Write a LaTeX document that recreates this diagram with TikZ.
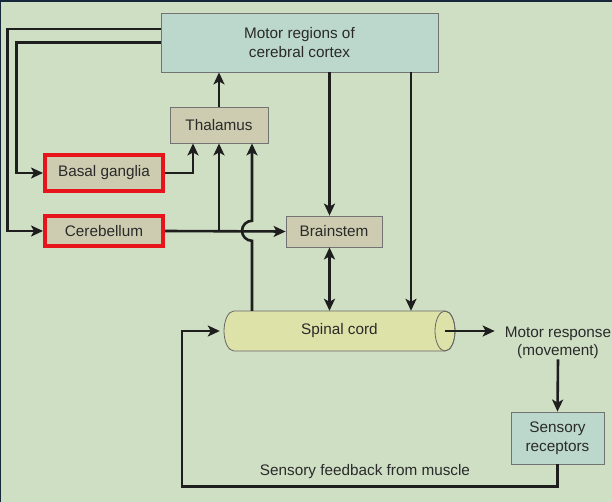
\documentclass[tikz,border=0pt]{standalone}
\usepackage{fontspec}
\setmainfont{Liberation Sans}
\usetikzlibrary{arrows.meta}
\definecolor{bgcol}{HTML}{CFDFC4}
\definecolor{cortexcol}{HTML}{BCD8CC}
\definecolor{tancol}{HTML}{CDCCB0}
\definecolor{cordcol}{HTML}{DDE2A8}
\definecolor{framecol}{HTML}{16283A}
\definecolor{inkcol}{HTML}{1E1E1E}
\definecolor{textcol}{HTML}{2A2A2A}
\definecolor{hilite}{HTML}{E8141C}
\tikzset{
    every node/.style={font=\fontsize{15.3}{18.5}\selectfont, text=textcol, align=center},
    box/.style={draw=black!55, line width=0.8pt, inner sep=0pt},
    redbox/.style={box, draw=hilite, line width=4pt, fill=tancol},
    >={Stealth[length=12pt,width=11pt,inset=3pt]},
    arr/.style={->, line width=2.6pt, draw=inkcol},
}
\begin{document}
\begin{tikzpicture}[x=1pt, y=-1pt]
            \useasboundingbox (0, 0) rectangle (612, 502);
            \fill[bgcol] (0, 0) rectangle (612, 502);
            \draw[framecol, line width=2pt] (0, 502) -- (0, 1) -- (612, 1);

            \node[box, fill=cortexcol, minimum width=277, minimum height=59] (cortex) at (299.5, 42.5) {Motor regions of\\cerebral cortex};
            \node[box, fill=tancol, minimum width=98, minimum height=36] (thal) at (219, 125) {Thalamus};
            \node[redbox, minimum width=118, minimum height=36] (basal) at (104, 173) {Basal ganglia};
            \node[redbox, minimum width=118, minimum height=30] (cereb) at (104, 231) {Cerebellum};
            \node[box, fill=tancol, minimum width=96, minimum height=31] (brain) at (334, 231.5) {Brainstem};
            % spinal cord drawn as a lying cylinder round its node
            \draw[black!60, line width=0.8pt, fill=cordcol] (244, 311) -- (445, 311)
                arc[start angle=-90, end angle=90, x radius=10, y radius=20] -- (234, 351)
                arc[start angle=90, end angle=270, x radius=10, y radius=20] -- cycle;
            \draw[black!60, line width=0.8pt] (445, 331) ellipse[x radius=10, y radius=20];
            \node[minimum width=231, minimum height=40, inner sep=0pt] (spinal) at (339.5, 331) {Spinal cord};
            \node[inner sep=0pt] (motor) at (558, 343) {Motor response\\(movement)};
            \node[box, fill=cortexcol, minimum width=93, minimum height=52] (recep) at (557.5, 438) {Sensory\\receptors};
            \node (feedback) at (365, 472) {Sensory feedback from muscle};

            \draw[arr] ([yshift=13.5pt]cortex.west) -- ++(-153, 0) |- (cereb.west);
            \draw[arr] (cortex.west) -- ++(-144, 0) |- (basal.west);
            \draw[arr] (basal.east) -| ([xshift=-26pt]thal.south);
            \draw[arr] (thal.north) -- (thal.north |- cortex.south);
            \draw[arr] (cereb.east) -- (brain.west);
            \draw[arr] (thal.south |- cereb.east) -- (thal.south);
            \draw[arr] ([xshift=33pt]thal.south |- spinal.north) -- ++(0, -70) arc[start angle=90, end angle=270, radius=10] -- ([xshift=33pt]thal.south);
            \draw[arr] ([xshift=-4.5pt]brain.north |- cortex.south) -- ([xshift=-4.5pt]brain.north);
            \draw[arr] ([xshift=111.5pt]cortex.south) -- ([xshift=111.5pt]cortex.south |- spinal.north);
            \draw[arr, <->] ([xshift=-4.5pt]brain.south) -- ([xshift=-4.5pt]brain.south |- spinal.north);
            \draw[arr] ([xshift=-10pt]spinal.east) -- ([xshift=-10pt]spinal.east -| motor.west);
            \draw[arr] (motor.south) -- (recep.north);
            \draw[arr, shorten >=4pt] (recep.south) -- ++(0, 22) -| ([xshift=-42pt]spinal.west) -- (spinal.west);

        \end{tikzpicture}
\end{document}
